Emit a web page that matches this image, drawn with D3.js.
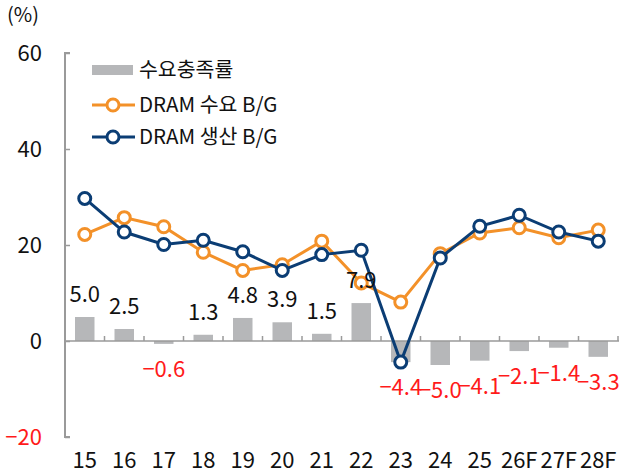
<!DOCTYPE html>
<html><head><meta charset="utf-8">
<script src="https://cdn.jsdelivr.net/npm/d3@7"></script>
<style>
body{margin:0;background:#fff;}
svg{display:block;font-family:"Noto Sans CJK KR","Noto Sans",sans-serif;}
</style></head>
<body>
<svg id="c" width="620" height="473"></svg>
<script>
const categories = ["15","16","17","18","19","20","21","22","23","24","25","26F","27F","28F"];
const sufficiency = [5.0,2.5,-0.6,1.3,4.8,3.9,1.5,7.9,-4.4,-5.0,-4.1,-2.1,-1.4,-3.3];
const demandBG = [22.2,25.7,23.8,18.5,14.7,15.9,20.8,12.1,8.1,18.2,22.5,23.6,21.5,23.1];
const supplyBG = [29.7,22.7,20.1,21.0,18.6,14.7,18.0,18.9,-4.4,17.3,23.9,26.2,22.7,20.8];
const yTicks = [-20,0,20,40,60];
const legendLabels = ["수요충족률","DRAM 수요 B/G","DRAM 생산 B/G"];

(function(){
const svg = d3.select("#c");
const L = 65, R = 618, T = 53, B = 437;
const x = d3.scaleBand().domain(categories).range([L, R]);
const y = d3.scaleLinear().domain([-20,60]).range([B, T]);
const axisColor = "#9a9a9a";
const orange = "#f39129", blue = "#0b3d74", gray = "#b6b7b9", red = "#ff1a1a";
const fs = 22;

// y axis
const yAxis = svg.append("g").attr("transform",`translate(${L},0)`)
  .call(d3.axisRight(y).tickValues(yTicks).tickSize(5).tickFormat(""));
yAxis.select(".domain").attr("stroke",axisColor).attr("stroke-width",2).attr("d",`M5,${T}H0V${B}H5`);
yAxis.selectAll(".tick line").attr("stroke",axisColor).attr("stroke-width",1.5);
svg.append("g").selectAll("text").data(yTicks).join("text")
  .attr("x",42).attr("y",d=>y(d)).attr("dy","0.36em").attr("text-anchor","end")
  .attr("font-size",fs).attr("fill",d=>d<0?red:"#111")
  .text(d=>d<0?"−"+Math.abs(d):d);
svg.append("text").attr("x",7).attr("y",22).attr("font-size",20).attr("fill","#111").text("(%)");

// bars
const bw = 19.5;
svg.append("g").selectAll("rect").data(sufficiency).join("rect")
  .attr("x",(d,i)=>x(categories[i])+x.bandwidth()/2-bw/2)
  .attr("width",bw)
  .attr("y",d=>Math.min(y(d),y(0)))
  .attr("height",d=>Math.abs(y(d)-y(0)))
  .attr("fill",gray);

// x axis at zero
const xAxis = svg.append("g").attr("transform",`translate(0,${y(0)})`)
  .call(d3.axisTop(x).tickSize(5).tickFormat(""));
xAxis.select(".domain").attr("stroke",axisColor).attr("stroke-width",1.5).attr("d",`M${L},0H${R+1}`);
xAxis.selectAll(".tick line").attr("stroke",axisColor).attr("stroke-width",1.5)
  .attr("transform",`translate(${x.bandwidth()/2},0)`);
svg.append("g").selectAll("text").data(categories).join("text")
  .attr("x",d=>x(d)+x.bandwidth()/2).attr("y",468).attr("text-anchor","middle")
  .attr("font-size",fs).attr("fill","#111").text(d=>d);

// lines
function drawLine(vals,color){
  const line = d3.line().x((d,i)=>x(categories[i])+x.bandwidth()/2).y(d=>y(d));
  svg.append("path").datum(vals).attr("d",line).attr("fill","none")
    .attr("stroke",color).attr("stroke-width",3);
  svg.append("g").selectAll("circle").data(vals).join("circle")
    .attr("cx",(d,i)=>x(categories[i])+x.bandwidth()/2).attr("cy",d=>y(d))
    .attr("r",6).attr("fill","#fff").attr("stroke",color).attr("stroke-width",3);
}
drawLine(demandBG,orange);
drawLine(supplyBG,blue);

// bar labels
svg.append("g").selectAll("text").data(sufficiency).join("text")
  .attr("x",(d,i)=>x(categories[i])+x.bandwidth()/2)
  .attr("y",d=>d>=0?y(d)-15:y(d)+33)
  .attr("text-anchor","middle").attr("font-size",fs)
  .attr("fill",d=>d<0?red:"#111")
  .text(d=>d<0?"−"+Math.abs(d).toFixed(1):d.toFixed(1));

// legend
const lg = svg.append("g");
lg.append("rect").attr("x",92).attr("y",65).attr("width",41).attr("height",10).attr("fill",gray);
[[orange,105],[blue,137]].forEach(([c,yy])=>{
  lg.append("line").attr("x1",92).attr("x2",135).attr("y1",yy).attr("y2",yy).attr("stroke",c).attr("stroke-width",3);
  lg.append("circle").attr("cx",113).attr("cy",yy).attr("r",6).attr("fill","#fff").attr("stroke",c).attr("stroke-width",3);
});
lg.selectAll("text").data(legendLabels).join("text")
  .attr("x",139).attr("y",(d,i)=>[70,105,137][i]).attr("dy","0.36em")
  .attr("font-size",20.5).attr("fill","#111").text(d=>d);
})();
</script>
</body></html>
